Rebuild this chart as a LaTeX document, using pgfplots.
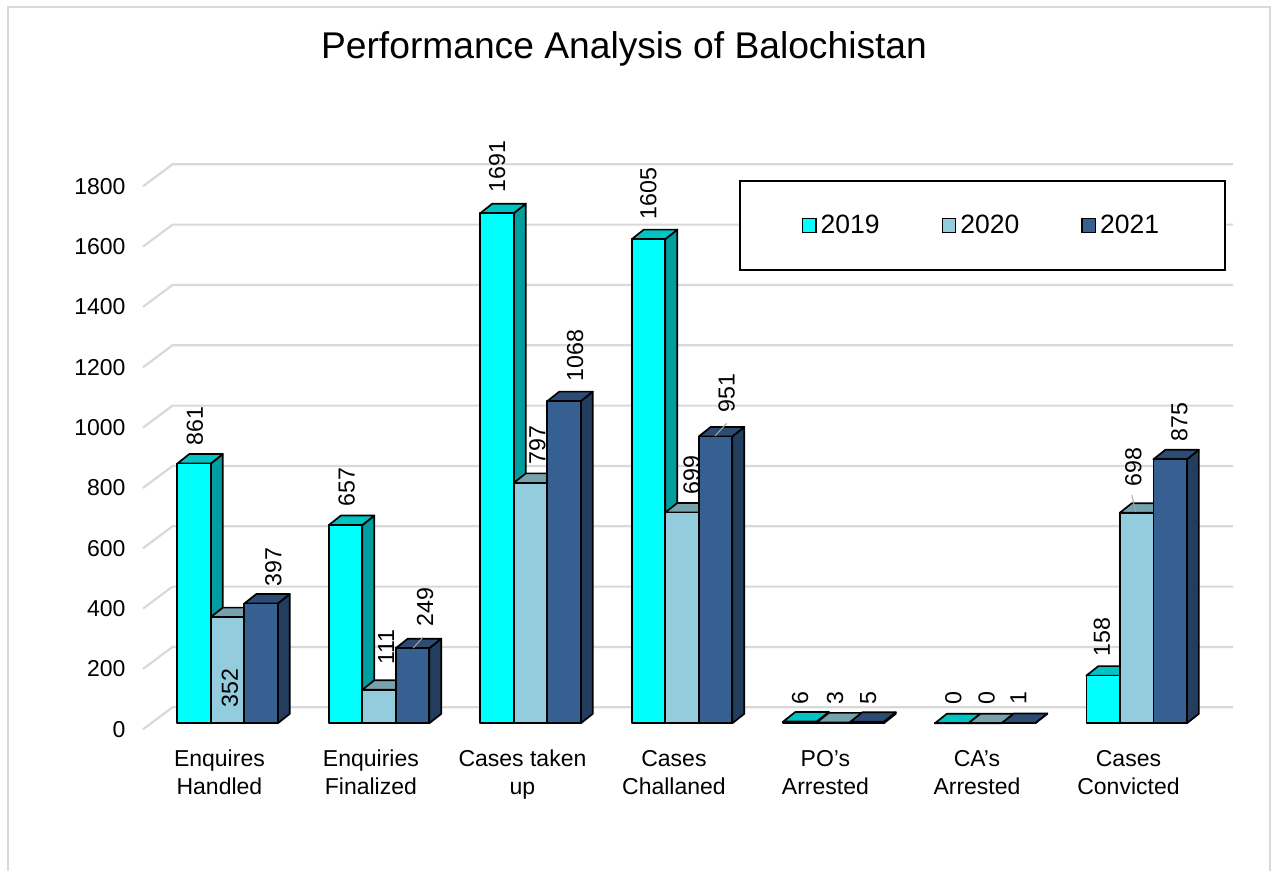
\documentclass[border=0pt]{standalone}
\usepackage{pgfplots}
\pgfplotsset{compat=1.18}
\usepackage{fontspec}
\setmainfont{Liberation Sans}
\definecolor{c19}{HTML}{00FFFF}
\definecolor{c19s}{HTML}{009E9E}
\definecolor{c19t}{HTML}{00C4C4}
\definecolor{c20}{HTML}{93CDDD}
\definecolor{c20s}{HTML}{6E98A4}
\definecolor{c20t}{HTML}{76A2AE}
\definecolor{c21}{HTML}{366092}
\definecolor{c21s}{HTML}{233D5E}
\definecolor{c21t}{HTML}{2C4C74}
\definecolor{gridc}{HTML}{D9D9D9}
\newcommand{\tdbar}[4]{%
  \pgfmathsetmacro\xa{#1+#2*0.2211}%
  \pgfmathsetmacro\xb{\xa+0.2211}%
  \pgfmathsetmacro\xc{\xb+0.0792}%
  \pgfmathsetmacro\xd{\xa+0.0792}%
  \pgfmathsetmacro\yb{#3+19.9}%
  \pgfmathsetmacro\yc{#3+51.4}%
  \edef\tmp{%
    \noexpand\addplot[forget plot, draw=black, line width=0.85pt, line join=round, fill=#4s] coordinates {(\xb,19.9) (\xc,51.4) (\xc,\yc) (\xb,\yb)} -- cycle;%
    \noexpand\addplot[forget plot, draw=black, line width=0.85pt, line join=round, fill=#4t] coordinates {(\xa,\yb) (\xb,\yb) (\xc,\yc) (\xd,\yc)} -- cycle;%
    \noexpand\addplot[forget plot, draw=black, line width=0.85pt, line join=round, fill=#4] coordinates {(\xa,19.9) (\xb,19.9) (\xb,\yb) (\xa,\yb)} -- cycle;%
  }\tmp}
\newcommand{\lbl}{\fontsize{11.6}{13}\selectfont}
\begin{document}
\begin{tikzpicture}
\useasboundingbox (0,0) rectangle (639.5pt,435.5pt);
\draw[gridc, line width=0.75pt] (4pt,-2pt) -- (4pt,432pt) -- (635pt,432pt) -- (635pt,-2pt);
\node[anchor=base, font=\fontsize{18.6}{22}\selectfont] at (312pt,406.35pt) {Performance Analysis of Balochistan};
\begin{axis}[
  at={(71.5pt,70.85pt)}, anchor=south west,
  scale only axis, width=545pt, height=282.5pt,
  xmin=-0.2264, xmax=6.968, ymin=0, ymax=1873,
  axis line style={draw=none}, major tick length=0pt,
  clip=false,
  ytick={0,200,400,600,800,1000,1200,1400,1600,1800},
  xtick={0.278,1.278,2.278,3.278,4.278,5.278,6.278},
  xticklabels={{Enquires\\Handled},{Enquiries\\Finalized},{Cases taken\\up},{Cases\\Challaned},{PO’s\\Arrested},{CA’s\\Arrested},{Cases\\Convicted}},
  xticklabel style={align=center, yshift=-6.8pt},
  yticklabel style={xshift=-5.2pt},
  tick label style={font=\fontsize{11.5}{14}\selectfont},
  /pgf/number format/assume math mode=true,
  /pgf/number format/1000 sep={},
  legend columns=3,
  legend style={at={(axis description cs:0.5468,0.9722)}, anchor=north west,
    draw=black, line width=0.8pt, font=\fontsize{13.25}{16}\selectfont,
    inner xsep=31pt, inner ysep=15pt,
    /tikz/every even column/.append style={column sep=29pt}},
  legend image code/.code={\draw[#1, draw=black, line width=0.6pt] (0pt,-3.4pt) rectangle (6.8pt,3.4pt);},
]
\addlegendimage{fill=c19}\addlegendentry{2019}
\addlegendimage{fill=c20}\addlegendentry{2020}
\addlegendimage{fill=c21}\addlegendentry{2021}
% back wall gridlines
\addplot[forget plot, gridc, line width=1.1pt] coordinates {(-0.2264,0) (-0.0317,72.9) (6.968,72.9)};
\addplot[forget plot, gridc, line width=1.1pt] coordinates {(-0.2264,200) (-0.0317,272.9) (6.968,272.9)};
\addplot[forget plot, gridc, line width=1.1pt] coordinates {(-0.2264,400) (-0.0317,472.9) (6.968,472.9)};
\addplot[forget plot, gridc, line width=1.1pt] coordinates {(-0.2264,600) (-0.0317,672.9) (6.968,672.9)};
\addplot[forget plot, gridc, line width=1.1pt] coordinates {(-0.2264,800) (-0.0317,872.9) (6.968,872.9)};
\addplot[forget plot, gridc, line width=1.1pt] coordinates {(-0.2264,1000) (-0.0317,1072.9) (6.968,1072.9)};
\addplot[forget plot, gridc, line width=1.1pt] coordinates {(-0.2264,1200) (-0.0317,1272.9) (6.968,1272.9)};
\addplot[forget plot, gridc, line width=1.1pt] coordinates {(-0.2264,1400) (-0.0317,1472.9) (6.968,1472.9)};
\addplot[forget plot, gridc, line width=1.1pt] coordinates {(-0.2264,1600) (-0.0317,1672.9) (6.968,1672.9)};
\addplot[forget plot, gridc, line width=1.1pt] coordinates {(-0.2264,1800) (-0.0317,1872.9) (6.968,1872.9)};
% bars: group, series index, value, colour
\tdbar{0}{0}{861}{c19}\tdbar{0}{1}{352}{c20}\tdbar{0}{2}{397}{c21}
\tdbar{1}{0}{657}{c19}\tdbar{1}{1}{111}{c20}\tdbar{1}{2}{249}{c21}
\tdbar{2}{0}{1691}{c19}\tdbar{2}{1}{797}{c20}\tdbar{2}{2}{1068}{c21}
\tdbar{3}{0}{1605}{c19}\tdbar{3}{1}{699}{c20}\tdbar{3}{2}{951}{c21}
\tdbar{4}{0}{6}{c19}\tdbar{4}{1}{3}{c20}\tdbar{4}{2}{5}{c21}
\tdbar{5}{0}{0}{c19}\tdbar{5}{1}{0}{c20}\tdbar{5}{2}{1}{c21}
\tdbar{6}{0}{158}{c19}\tdbar{6}{1}{698}{c20}\tdbar{6}{2}{875}{c21}
% leader lines
\addplot[forget plot, gray!70, line width=0.5pt] coordinates {(1.5571,269.5) (1.6231,306.0)};
\addplot[forget plot, gray!70, line width=0.5pt] coordinates {(3.549,972.3) (3.6264,1014.4)};
\addplot[forget plot, gray!70, line width=0.5pt] coordinates {(6.2997,776.7) (6.3261,721.3)};
% data labels
\addplot[forget plot, draw=none, mark=none, nodes near coords, point meta=explicit symbolic,
  nodes near coords style={rotate=90, anchor=west, inner sep=0pt, font=\lbl, text=black}]
  coordinates {
  (0.1168,939.1) [861] (0.3479,70.6) [352] (0.6337,471.7) [397]
  (1.1182,736.9) [657] (1.3776,213.2) [111] (1.635,339.1) [249]
  (2.1102,1777.8) [1691] (2.3762,876.2) [797] (2.6251,1151.3) [1068]
  (3.1089,1688.3) [1605] (3.3954,776.7) [699] (3.6264,1048.5) [951]
  (4.1102,80.6) [6] (4.3413,80.6) [3] (4.5611,80.6) [5]
  (5.1221,80.6) [0] (5.3426,80.6) [0] (5.5512,80.6) [1]
  (6.1017,239.7) [158] (6.3102,803.2) [698] (6.6139,952.4) [875]
  };
\end{axis}
\end{tikzpicture}
\end{document}
